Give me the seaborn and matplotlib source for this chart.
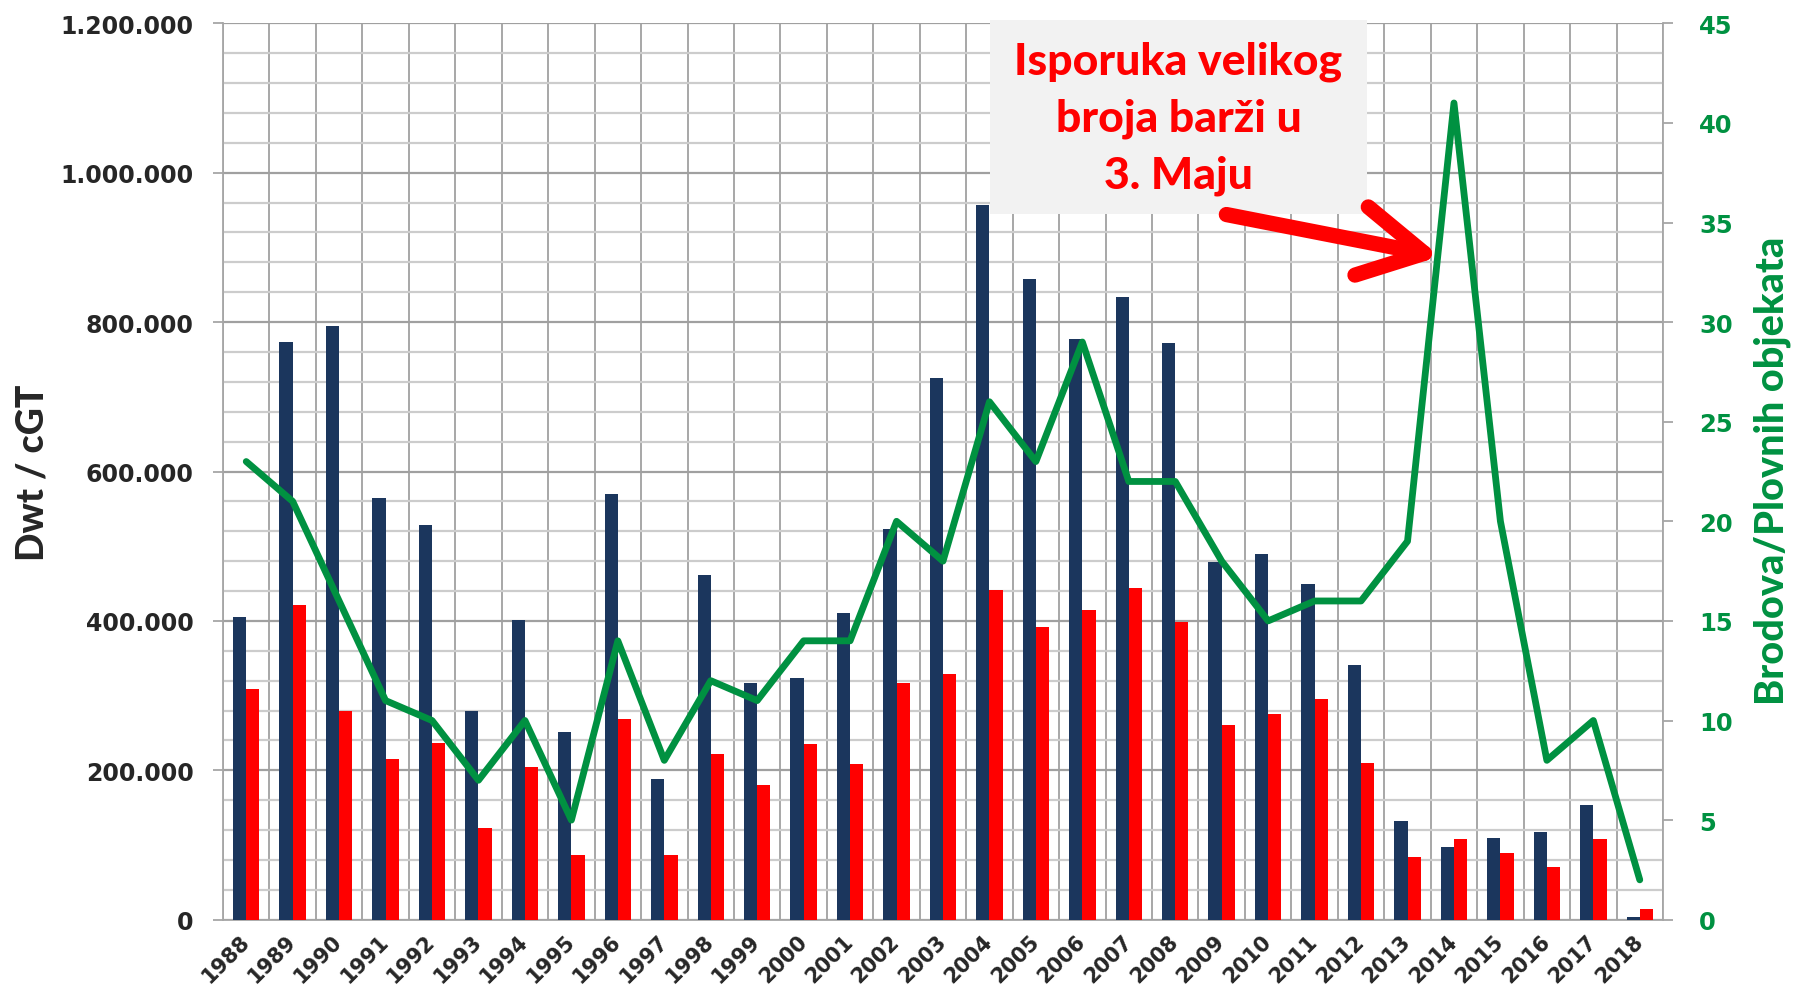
import numpy as np
import pandas as pd
import matplotlib
matplotlib.use("Agg")
import matplotlib.pyplot as plt
import seaborn as sns
from matplotlib.patches import Rectangle
from matplotlib.ticker import FuncFormatter, MultipleLocator

# podaci po godinama
godine = [str(g) for g in range(1988, 2019)]
dwt = [405000, 773000, 795000, 565000, 528000, 279000, 401000, 251000, 570000, 189000,
       461000, 317000, 323000, 410000, 523000, 725000, 957000, 858000, 777000, 834000,
       772000, 479000, 489000, 449000, 341000, 132000, 97000, 109000, 118000, 153000, 4000]
cgt = [309000, 421000, 280000, 215000, 236000, 123000, 204000, 86000, 269000, 87000,
       222000, 180000, 235000, 209000, 317000, 329000, 441000, 392000, 414000, 444000,
       399000, 260000, 276000, 296000, 210000, 84000, 108000, 89000, 71000, 108000, 14000]
brodova = [23, 21, 16, 11, 10, 7, 10, 5, 14, 8, 12, 11, 14, 14, 20, 18, 26, 23, 29, 22,
           22, 18, 15, 16, 16, 19, 41, 20, 8, 10, 2]

plava = '#1B365D'
crvena = '#FF0000'
zelena = '#009141'
siva = '#A6A6A6'

df = pd.DataFrame({'Godina': godine, 'Dwt': dwt, 'cGT': cgt})
df_long = df.melt(id_vars='Godina', var_name='Serija', value_name='Vrijednost')

sns.set_style('white')
plt.rcParams['font.family'] = ['DejaVu Sans']
uski = ['Lato', 'DejaVu Sans']

fig = plt.figure(figsize=(17.96, 9.95), dpi=100)
ax = fig.add_axes([223 / 1796, 1 - 920.7 / 995, 1440 / 1796, 896.4 / 995])

sns.barplot(data=df_long, x='Godina', y='Vrijednost', hue='Serija',
            palette=[plava, crvena], saturation=1, width=0.57, gap=0, ax=ax,
            legend=False, edgecolor='none', zorder=3)

# broj brodova na desnoj osi
ax2 = ax.twinx()
sns.lineplot(x=np.arange(len(godine)), y=brodova, color=zelena, lw=4.9, ax=ax2,
             solid_capstyle='round', solid_joinstyle='round', zorder=5)
ax2.xaxis.set_visible(False)

ax.set_ylim(0, 1200000)
ax.set_xlim(-0.5, len(godine) - 0.5)
ax.yaxis.set_major_locator(MultipleLocator(200000))
ax.yaxis.set_minor_locator(MultipleLocator(40000))
ax.set_xticks(np.arange(len(godine)), labels=godine)
ax.xaxis.set_minor_locator(MultipleLocator(1, offset=0.5))
ax.yaxis.set_major_formatter(FuncFormatter(lambda v, p: f'{int(v):,}'.replace(',', '.')))

ax.grid(which='major', axis='y', color='#A0A0A0', lw=1.6, zorder=0)
ax.grid(which='minor', axis='y', color='#CCCCCC', lw=1.6, zorder=0)
ax.grid(which='minor', axis='x', color='#A0A0A0', lw=1.3, zorder=0)
ax.set_axisbelow(True)

ax.tick_params(axis='y', which='major', length=7, width=1.3, color=siva, pad=14,
               labelsize=17)
ax.tick_params(axis='y', which='minor', length=0)
ax.tick_params(axis='x', which='major', length=0, pad=13)
ax.tick_params(axis='x', which='minor', length=7, width=1.3, color=siva)
plt.setp(ax.get_yticklabels(), fontweight='bold')
plt.setp(ax.get_xticklabels(), fontsize=15, fontweight='bold', rotation=45,
         ha='right', va='center', rotation_mode='anchor')

ax.set_xlabel('')
ax.set_ylabel('Dwt / cGT', fontsize=27, fontweight='black', family=uski, va='center')
ax.yaxis.set_label_coords(-0.1326, 0.5)

for s in ['top', 'right']:
    ax.spines[s].set_visible(False)
for s in ['left', 'bottom']:
    ax.spines[s].set_color(siva)
    ax.spines[s].set_linewidth(1.3)

ax2.set_ylim(0, 45)
ax2.set_xlim(-0.5, len(godine) - 0.5)
ax2.yaxis.set_major_locator(MultipleLocator(5))
ax2.tick_params(axis='y', length=7, width=1.3, color=siva, pad=19, labelsize=17.5,
                labelcolor=zelena)
plt.setp(ax2.get_yticklabels(), fontweight='bold')
ax2.grid(False)
for s in ['top', 'left', 'bottom']:
    ax2.spines[s].set_visible(False)
ax2.spines['right'].set_color(siva)
ax2.spines['right'].set_linewidth(1.3)
ax2.set_ylabel('Brodova/Plovnih objekata', fontsize=28.5, fontweight='black',
               family=uski, color=zelena, va='center')
ax2.yaxis.set_label_coords(1.0757, 0.502)

# okvir s napomenom
okvir = Rectangle((990 / 1796, 1 - 215 / 995), 377 / 1796, 194.5 / 995,
                  transform=fig.transFigure, facecolor='#F2F2F2', edgecolor='none',
                  zorder=6, clip_on=False)
ax2.add_artist(okvir)
ax2.text(1178.5 / 1796, 1 - 119 / 995, 'Isporuka velikog\nbroja barži u\n3. Maju',
         transform=fig.transFigure, ha='center', va='center', fontsize=32,
         fontweight='black', family=uski, color=crvena, linespacing=1.5, zorder=7)
ax2.annotate('', xy=(25.7, 33.3), xytext=(21.1, 35.4),
             arrowprops=dict(arrowstyle='->,head_length=4.6,head_width=2.5',
                             mutation_scale=10, color=crvena, lw=11,
                             capstyle='round', joinstyle='round',
                             shrinkA=0, shrinkB=0),
             zorder=8, annotation_clip=False)

fig.savefig('out.png', dpi=100)
